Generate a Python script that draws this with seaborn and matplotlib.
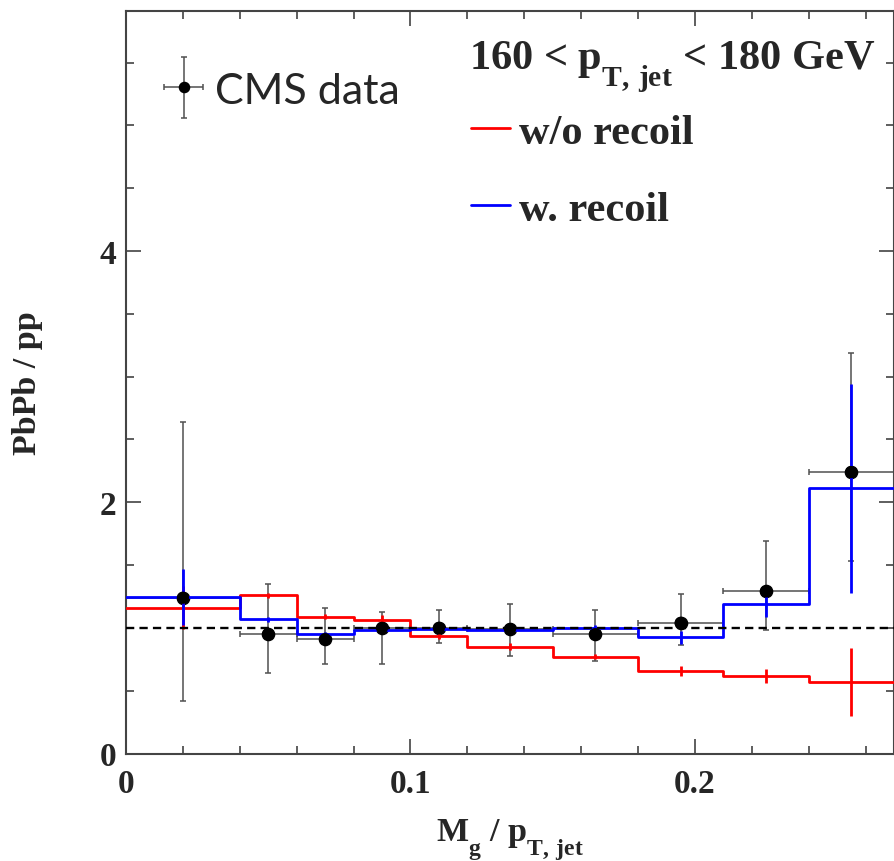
import numpy as np
import matplotlib
matplotlib.use("Agg")
import matplotlib.pyplot as plt
from matplotlib.ticker import MultipleLocator, FuncFormatter
from matplotlib.legend_handler import HandlerErrorbar
from matplotlib import _mathtext
import seaborn as sns

# ---- data -------------------------------------------------------------
bin_edges = [0.0, 0.04, 0.06, 0.08, 0.10, 0.12, 0.15, 0.18, 0.21, 0.24, 0.27]
bin_centers = [0.02, 0.05, 0.07, 0.09, 0.11, 0.135, 0.165, 0.195, 0.225, 0.255]
bin_halfwidths = [0.02, 0.01, 0.01, 0.01, 0.01, 0.015, 0.015, 0.015, 0.015, 0.015]

cms_ratio = [1.24, 0.95, 0.91, 1.00, 1.00, 0.99, 0.95, 1.04, 1.29, 2.24]
cms_err_up = [1.40, 0.40, 0.25, 0.13, 0.14, 0.20, 0.19, 0.23, 0.40, 0.95]
cms_err_down = [0.82, 0.31, 0.20, 0.29, 0.12, 0.21, 0.21, 0.18, 0.31, 0.71]

no_recoil = [1.16, 1.26, 1.09, 1.065, 0.935, 0.85, 0.77, 0.66, 0.615, 0.57]
no_recoil_err = [0.17, 0.02, 0.02, 0.04, 0.02, 0.03, 0.02, 0.04, 0.055, 0.27]

with_recoil = [1.245, 1.067, 0.948, 0.985, 0.99, 0.98, 1.00, 0.924, 1.19, 2.11]
with_recoil_err = [0.225, 0.02, 0.02, 0.02, 0.02, 0.02, 0.02, 0.05, 0.10, 0.83]

unity = 1.0
x_range = (0.0, 0.27)
y_range = (0.0, 5.91)

# ---- style ------------------------------------------------------------
sns.set_theme(style="ticks")
plt.rcParams["font.family"] = ["Liberation Serif", "DejaVu Serif"]
plt.rcParams["font.weight"] = "bold"
plt.rcParams["axes.labelweight"] = "bold"
plt.rcParams["mathtext.fontset"] = "custom"
plt.rcParams["mathtext.rm"] = "Liberation Serif:bold"
plt.rcParams["mathtext.it"] = "Liberation Serif:bold"
plt.rcParams["mathtext.bf"] = "Liberation Serif:bold"
# deeper subscripts, ROOT-like
_mathtext.FontConstantsBase.sub1 = 0.9

fig = plt.figure(figsize=(8.95, 8.62), dpi=100)
ax = fig.add_axes([126 / 895, 1 - 754.5 / 862, 768 / 895, 742.5 / 862])

# ---- data points (error bars below the model curves) -----------------
ax.errorbar(bin_centers, cms_ratio,
            xerr=bin_halfwidths, yerr=[cms_err_down, cms_err_up],
            fmt="o", color="black", ecolor="#505050", elinewidth=1.1,
            capsize=2.2, capthick=1.1, markersize=8.8, zorder=2,
            label="CMS data")
cms_handle = ax.containers[-1]

# ---- model histograms -------------------------------------------------
sns.histplot(x=bin_centers, weights=no_recoil, bins=bin_edges,
             element="step", fill=False, color="#ff0000", linewidth=2.0,
             ax=ax, zorder=3)
red_line = ax.lines[-1]
ax.errorbar(bin_centers, no_recoil, yerr=no_recoil_err, fmt="none",
            ecolor="#ff0000", elinewidth=2.0, zorder=3)

sns.histplot(x=bin_centers, weights=with_recoil, bins=bin_edges,
             element="step", fill=False, color="#0000ff", linewidth=2.0,
             ax=ax, zorder=3)
blue_line = ax.lines[-1]
ax.errorbar(bin_centers, with_recoil, yerr=with_recoil_err, fmt="none",
            ecolor="#0000ff", elinewidth=2.0, zorder=3)

ax.axhline(unity, color="black", linewidth=1.7, dashes=(3.5, 2.2), zorder=4)

# markers on top of everything
sns.scatterplot(x=bin_centers, y=cms_ratio, color="black", s=8.8 ** 2,
                edgecolor="none", ax=ax, zorder=5)

# ---- axes -------------------------------------------------------------
ax.set_xlim(*x_range)
ax.set_ylim(*y_range)
ax.xaxis.set_major_locator(MultipleLocator(0.1))
ax.xaxis.set_minor_locator(MultipleLocator(0.02))
ax.yaxis.set_major_locator(MultipleLocator(2))
ax.yaxis.set_minor_locator(MultipleLocator(0.5))
fmt = FuncFormatter(lambda v, p: f"{v:g}")
ax.xaxis.set_major_formatter(fmt)
ax.yaxis.set_major_formatter(fmt)

ax.tick_params(which="both", direction="in", top=True, right=True,
               color="#333333", width=1.1)
ax.tick_params(which="major", length=10.8, labelsize=24)
ax.tick_params(which="minor", length=5.6)
ax.tick_params(axis="x", which="major", pad=10.5)
ax.tick_params(axis="y", which="major", pad=7)
for lab in ax.get_xticklabels() + ax.get_yticklabels():
    lab.set_fontweight("bold")

for sp in ax.spines.values():
    sp.set_visible(True)
    sp.set_color("#444444")
    sp.set_linewidth(1.5)

ax.set_xlabel(r"M$_{\mathrm{g}}$ / p$_{\mathrm{T,\,jet}}$", fontsize=24.5)
ax.set_ylabel("PbPb / pp", fontsize=24.5)
ax.xaxis.set_label_coords(0.5, -0.085)
ax.yaxis.set_label_coords(-0.108, 0.5)

# ---- annotations and legends -------------------------------------------
fig.text(469 / 895, 1 - 69.3 / 862,
         r"160 < p$_{\mathrm{T,\,jet}}$ < 180 GeV",
         fontsize=30.5, fontweight="bold", ha="left", va="baseline")

leg_cms = ax.legend(handles=[cms_handle], labels=["CMS data"],
                    loc="center left",
                    bbox_to_anchor=(162 / 895, 1 - 91.5 / 862),
                    bbox_transform=fig.transFigure,
                    frameon=False, borderpad=0, borderaxespad=0,
                    handlelength=1.0, handletextpad=0.23, markerscale=0.83,
                    prop={"family": ["Lato", "DejaVu Sans"], "size": 31,
                          "weight": "normal"},
                    handler_map={type(cms_handle): HandlerErrorbar(
                        xerr_size=0.45, yerr_size=0.71)})
ax.add_artist(leg_cms)

ax.legend(handles=[red_line, blue_line], labels=["w/o recoil", "w. recoil"],
          loc="upper left",
          bbox_to_anchor=(471 / 895, 1 - 114 / 862),
          bbox_transform=fig.transFigure,
          frameon=False, borderpad=0, borderaxespad=0,
          handlelength=0.93, handletextpad=0.21, labelspacing=0.92,
          prop={"family": ["Liberation Serif"], "size": 30.5,
                "weight": "bold"})

fig.savefig("out.png", dpi=100)
